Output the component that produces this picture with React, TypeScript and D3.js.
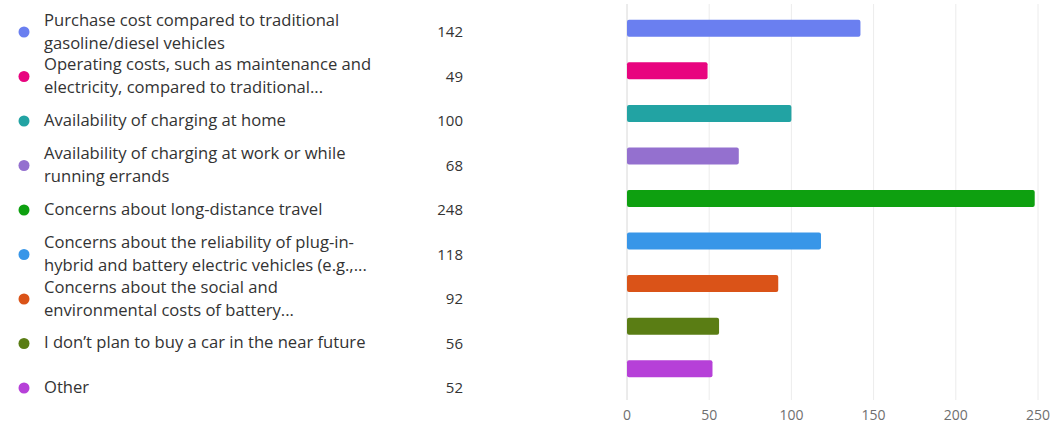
import React from "react";
import * as d3 from "d3";

const labels: string[][] = [
  ["Purchase cost compared to traditional", "gasoline/diesel vehicles"],
  ["Operating costs, such as maintenance and", "electricity, compared to traditional..."],
  ["Availability of charging at home"],
  ["Availability of charging at work or while", "running errands"],
  ["Concerns about long-distance travel"],
  ["Concerns about the reliability of plug-in-", "hybrid and battery electric vehicles (e.g.,..."],
  ["Concerns about the social and", "environmental costs of battery..."],
  ["I don\u2019t plan to buy a car in the near future"],
  ["Other"],
];
const values: number[] = [142, 49, 100, 68, 248, 118, 92, 56, 52];
const colors: string[] = [
  "#6a7ff0", "#e8047f", "#22a3a3", "#9470cf", "#0ea010",
  "#3896e8", "#da5318", "#5a7d14", "#b640d8",
];
const xTicks: number[] = [0, 50, 100, 150, 200, 250];

const W = 1052;
const H = 425;
const FONT = "'Open Sans', 'Noto Sans', sans-serif";

export default function App() {
  const x = d3.scaleLinear().domain([0, 250]).range([627, 1038]);
  const y = d3
    .scaleBand<number>()
    .domain(d3.range(values.length))
    .range([7, 390])
    .paddingInner(0.6)
    .paddingOuter(0.3);
  const legendY = d3.scaleLinear().domain([0, values.length - 1]).range([32, 388]);

  return (
    <svg
      width={W}
      height={H}
      style={{ position: "absolute", left: 0, top: 0, background: "#fff" }}
      fontFamily={FONT}
    >
      {xTicks.map((t) => (
        <line
          key={"g" + t}
          x1={x(t)}
          x2={x(t)}
          y1={4}
          y2={400}
          stroke={t === 0 ? "#d8d8d8" : "#ececec"}
          strokeWidth={1}
        />
      ))}
      {values.map((v, i) => (
        <rect
          key={"b" + i}
          x={x(0)}
          y={y(i)!}
          width={x(v) - x(0)}
          height={y.bandwidth()}
          rx={2}
          fill={colors[i]}
        />
      ))}
      {xTicks.map((t) => (
        <text
          key={"t" + t}
          x={x(t)}
          y={415}
          dy="0.35em"
          textAnchor="middle"
          fontSize={14}
          fill="#6f6f6f"
        >
          {t}
        </text>
      ))}
      {values.map((v, i) => {
        const c = legendY(i);
        const lines = labels[i];
        return (
          <g key={"l" + i}>
            <circle cx={24} cy={c} r={5.5} fill={colors[i]} />
            {lines.map((ln, j) => (
              <text
                key={j}
                x={44}
                y={lines.length === 1 ? c - 1 : c - 12 + j * 23}
                dy="0.35em"
                fontSize={16.6}
                fill="#333"
              >
                {ln}
              </text>
            ))}
            <text x={463} y={c} dy="0.35em" textAnchor="end" fontSize={15} fill="#333">
              {v}
            </text>
          </g>
        );
      })}
    </svg>
  );
}
